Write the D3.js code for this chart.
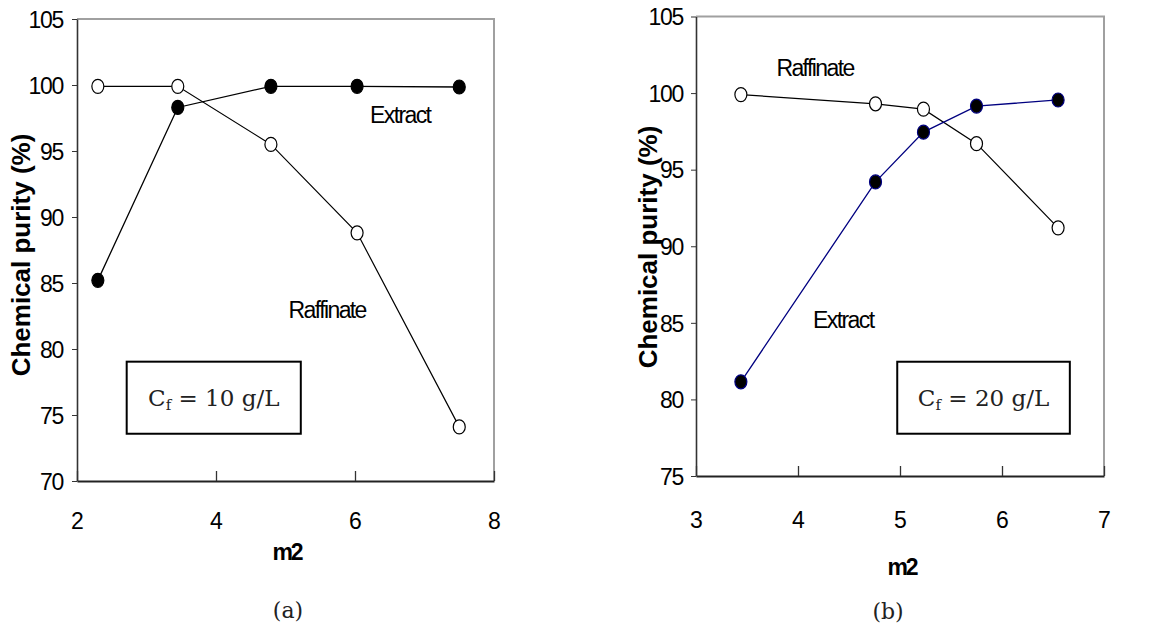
<!DOCTYPE html>
<html>
<head>
<meta charset="utf-8">
<script src="https://cdn.jsdelivr.net/npm/d3@7"></script>
<style>
  html, body { margin: 0; padding: 0; background: #fff; }
</style>
</head>
<body>
<div id="chart"></div>
<script>
// panel (a): Cf = 10 g/L
const m2A = [2.3, 3.45, 4.79, 6.03, 7.5];
const raffinateA = [99.9, 99.9, 95.5, 88.8, 74.1];
const extractA = [85.2, 98.3, 99.9, 99.9, 99.85];
const xTicksA = [2, 4, 6, 8];
const yTicksA = [70, 75, 80, 85, 90, 95, 100, 105];

// panel (b): Cf = 20 g/L
const m2B = [3.44, 4.76, 5.23, 5.75, 6.55];
const raffinateB = [99.9, 99.3, 98.95, 96.7, 91.2];
const extractB = [81.15, 94.2, 97.45, 99.15, 99.55];
const xTicksB = [3, 4, 5, 6, 7];
const yTicksB = [75, 80, 85, 90, 95, 100, 105];

const width = 1173;
const height = 626;
const sans = "'Liberation Sans', Arial, sans-serif";
const serif = "'DejaVu Serif', serif";

const svg = d3.select("#chart")
  .append("svg")
  .attr("width", width)
  .attr("height", height);

function drawPanel(p) {
  const x = d3.scaleLinear().domain(p.xDomain).range(p.xRange);
  const y = d3.scaleLinear().domain(p.yDomain).range(p.yRange);
  const g = svg.append("g");

  const [x0, x1] = p.xRange;
  const [y0, y1] = p.yRange;

  // grey frame on top and right
  g.append("path")
    .attr("d", `M${x0},${y1}H${x1}V${y0}`)
    .attr("fill", "none")
    .attr("stroke", "#a0a0a0")
    .attr("stroke-width", 2);

  // y axis, ticks pointing out
  const yAxis = g.append("g")
    .attr("transform", `translate(${x0},0)`)
    .call(d3.axisLeft(y).tickValues(p.yTicks).tickFormat(d3.format("d"))
      .tickSize(5).tickPadding(p.yPad).tickSizeOuter(0));
  yAxis.attr("font-size", 23).attr("font-family", sans);
  yAxis.select(".domain").attr("stroke", "#333").attr("stroke-width", 1.6);
  yAxis.selectAll(".tick line").attr("stroke", "#333");
  yAxis.selectAll(".tick text").attr("letter-spacing", -1.3).attr("dy", "0.36em");

  // x axis, ticks pointing in
  const xAxis = g.append("g")
    .attr("transform", `translate(0,${y0})`)
    .call(d3.axisBottom(x).tickValues(p.xTicks).tickFormat(d3.format("d"))
      .tickSize(-10).tickPadding(p.xPad).tickSizeOuter(0));
  xAxis.attr("font-size", 23).attr("font-family", sans);
  xAxis.select(".domain").attr("stroke", "#222").attr("stroke-width", 2);
  xAxis.selectAll(".tick line").attr("stroke", "#333").attr("stroke-width", 1.3);

  const raff = p.m2.map((v, i) => ({ x: v, y: p.raffinate[i] }));
  const ext = p.m2.map((v, i) => ({ x: v, y: p.extract[i] }));
  const line = d3.line().x(d => x(d.x)).y(d => y(d.y));

  g.append("path")
    .datum(raff)
    .attr("d", line)
    .attr("fill", "none")
    .attr("stroke", "#000")
    .attr("stroke-width", 1.2);

  g.append("path")
    .datum(ext)
    .attr("d", line)
    .attr("fill", "none")
    .attr("stroke", p.extractColor)
    .attr("stroke-width", 1.3);

  g.selectAll("ellipse.raff")
    .data(raff)
    .join("ellipse")
    .attr("class", "raff")
    .attr("cx", d => x(d.x))
    .attr("cy", d => y(d.y))
    .attr("rx", 6)
    .attr("ry", 7)
    .attr("fill", "#fff")
    .attr("stroke", "#000")
    .attr("stroke-width", 1.2);

  g.selectAll("ellipse.ext")
    .data(ext)
    .join("ellipse")
    .attr("class", "ext")
    .attr("cx", d => x(d.x))
    .attr("cy", d => y(d.y))
    .attr("rx", 6)
    .attr("ry", 7)
    .attr("fill", "#000")
    .attr("stroke", p.extractColor)
    .attr("stroke-width", 1.2);

  // series labels
  g.append("text")
    .attr("x", x(p.extractLabel[0]))
    .attr("y", y(p.extractLabel[1]))
    .attr("text-anchor", "middle")
    .attr("font-family", sans)
    .attr("font-size", 23)
    .attr("letter-spacing", -1.6)
    .text("Extract");

  g.append("text")
    .attr("x", x(p.raffLabel[0]))
    .attr("y", y(p.raffLabel[1]))
    .attr("text-anchor", "middle")
    .attr("font-family", sans)
    .attr("font-size", 23)
    .attr("letter-spacing", -1.6)
    .text("Raffinate");

  // Cf box
  const bx = x(p.box[0]), bx2 = x(p.box[1]);
  const by = y(p.box[2]), by2 = y(p.box[3]);
  g.append("rect")
    .attr("x", bx)
    .attr("y", by)
    .attr("width", bx2 - bx)
    .attr("height", by2 - by)
    .attr("fill", "#fff")
    .attr("stroke", "#000")
    .attr("stroke-width", 2);

  const t = g.append("text")
    .attr("x", (bx + bx2) / 2)
    .attr("y", (by + by2) / 2 + 8)
    .attr("text-anchor", "middle")
    .attr("font-family", serif)
    .attr("font-size", 23)
    .attr("fill", "#222");
  t.append("tspan").text("C");
  t.append("tspan").attr("font-size", 15).attr("dy", 4).text("f");
  t.append("tspan").attr("dy", -4).text(` = ${p.cf} g/L`);

  // axis titles
  g.append("text")
    .attr("transform", `translate(${p.yTitleX},${p.yTitleY}) rotate(-90)`)
    .attr("text-anchor", "middle")
    .attr("font-family", sans)
    .attr("font-weight", "bold")
    .attr("font-size", 26)
    .text("Chemical purity (%)");

  g.append("text")
    .attr("x", p.xTitle[0])
    .attr("y", p.xTitle[1])
    .attr("text-anchor", "middle")
    .attr("font-family", sans)
    .attr("font-weight", "bold")
    .attr("font-size", 23)
    .attr("letter-spacing", -2)
    .text("m2");

  g.append("text")
    .attr("x", p.caption[0])
    .attr("y", p.caption[1])
    .attr("text-anchor", "middle")
    .attr("font-family", serif)
    .attr("font-size", 22)
    .attr("fill", "#222")
    .text(p.captionText);
}

drawPanel({
  m2: m2A, raffinate: raffinateA, extract: extractA,
  xTicks: xTicksA, yTicks: yTicksA,
  xDomain: [2, 8], yDomain: [70, 105],
  xRange: [77, 494], yRange: [481, 19],
  xPad: 32, yPad: 9,
  extractColor: "#000",
  extractLabel: [6.65, 97.1],
  raffLabel: [5.6, 82.35],
  box: [2.715, 5.22, 79.04, 73.58],
  cf: 10,
  yTitleX: 30, yTitleY: 255,
  xTitle: [287, 560],
  caption: [288, 618], captionText: "(a)"
});

drawPanel({
  m2: m2B, raffinate: raffinateB, extract: extractB,
  xTicks: xTicksB, yTicks: yTicksB,
  xDomain: [3, 7], yDomain: [75, 105],
  xRange: [696, 1104], yRange: [476, 16.5],
  xPad: 36, yPad: 8,
  extractColor: "#000080",
  extractLabel: [4.444, 84.66],
  raffLabel: [4.167, 101.1],
  box: [4.973, 6.665, 82.46, 77.76],
  cf: 20,
  yTitleX: 657, yTitleY: 247,
  xTitle: [902, 575],
  caption: [888, 619], captionText: "(b)"
});
</script>
</body>
</html>
